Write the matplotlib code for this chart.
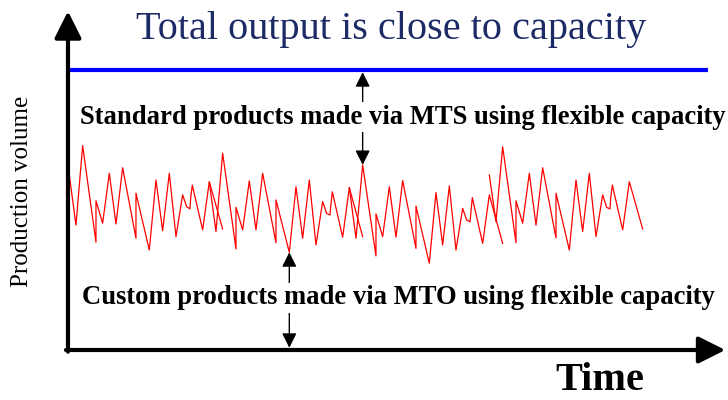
import matplotlib.pyplot as plt
import numpy as np

# ===== data =====
# one noisy production block (time steps inside the block) and its volumes
steps = [0, 1, 2, 4, 4, 5, 6, 7, 8, 10, 10, 12, 13, 14, 15, 16, 17, 17.6, 18.1, 18.2, 18.45, 20, 21, 23]
block_starts = [0, 21, 42, 63]
seg1 = [62.5, 44.6, 73.0, 38.5, 53.3, 45.3, 63.1, 45.0, 65.1, 39.9, 56.0, 35.7,
        60.7, 42.6, 63.1, 40.5, 55.4, 51.2, 50.4, 54.2, 58.9, 42.9, 60.1, 43.2]
seg2 = [59.9, 42.3, 70.3, 36.1, 51.0, 42.9, 60.4, 42.9, 63.1, 38.3, 53.6, 34.9,
        58.3, 39.9, 60.7, 37.5, 53.0, 48.8, 48.2, 51.0, 56.5, 40.3, 58.0, 40.5]
seg3 = [58.0, 39.9, 66.1, 33.6, 48.6, 40.5, 58.3, 40.3, 60.5, 36.3, 51.4, 31.0,
        56.2, 37.5, 58.6, 35.7, 50.6, 46.4, 45.8, 48.2, 54.4, 38.1, 55.4, 38.1]
seg4 = [62.5, 45.8, 72.6, 38.3, 53.3, 45.3, 63.1, 44.6, 65.1, 40.0, 56.0, 35.7,
        60.7, 42.3, 63.1, 40.5, 55.4, 50.9, 50.4, 54.2, 58.9, 42.9, 60.1, 43.2]
segments = [seg1, seg2, seg3, seg4]
capacity = 100

serif = ['Liberation Serif', 'DejaVu Serif']

fig = plt.figure(figsize=(7.28, 4.0), dpi=100)
ax = fig.add_axes([0, 0, 1, 1])
ax.set_xlim(-10.395, 98.8)
ax.set_ylim(-17.857, 125)
ax.axis('off')

# red production volume
for start, seg in zip(block_starts, segments):
    ax.plot(np.array(steps) + start, seg, color='red', lw=0.9, zorder=2)

# capacity line
ax.plot([-0.2, 95.8], [capacity, capacity], color='#0000ff', lw=3, zorder=3,
        solid_capstyle='butt')

# axes with arrow heads
head = '-|>,head_length=0.4,head_width=0.2'
ax.annotate('', xy=(98.4, 0), xytext=(-0.5, 0),
            arrowprops=dict(arrowstyle=head, lw=3, color='black',
                            mutation_scale=41, shrinkA=0, shrinkB=0))
ax.annotate('', xy=(-0.2, 121), xytext=(-0.2, -0.6),
            arrowprops=dict(arrowstyle=head, lw=3, color='black',
                            mutation_scale=41, shrinkA=0, shrinkB=0))

# double arrows
dbl = dict(arrowstyle='<|-|>,head_length=0.8,head_width=0.4', lw=1.0,
           color='black', mutation_scale=11, shrinkA=0, shrinkB=0)
ax.annotate('', xy=(block_starts[2] + steps[2], seg3[2]),
            xytext=(block_starts[2] + steps[2], capacity - 0.8), arrowprops=dbl, zorder=4)
ax.annotate('', xy=(block_starts[1] + steps[11], seg2[11]),
            xytext=(block_starts[1] + steps[11], 0.8), arrowprops=dbl, zorder=4)

# texts
ax.text(48.3, 114.3, 'Total output is close to capacity', family=serif,
        fontsize=29, color='#1c2b66', ha='center', va='center')
box = dict(facecolor='white', edgecolor='none', pad=2)
ax.text(50.0, 83.2, 'Standard products made via MTS using flexible capacity',
        family=serif, fontsize=19.2, fontweight='bold', ha='center', va='center',
        bbox=box, zorder=5)
ax.text(49.4, 18.6, 'Custom products made via MTO using flexible capacity',
        family=serif, fontsize=19.2, fontweight='bold', ha='center', va='center',
        bbox=box, zorder=5)
ax.text(79.6, -14.3, 'Time', family=serif, fontsize=29, fontweight='bold',
        ha='center', va='baseline')
ax.text(-7.1, 56.8, 'Production volume', family=serif, fontsize=18,
        rotation=90, ha='center', va='center')

fig.savefig('out.png', dpi=100)
